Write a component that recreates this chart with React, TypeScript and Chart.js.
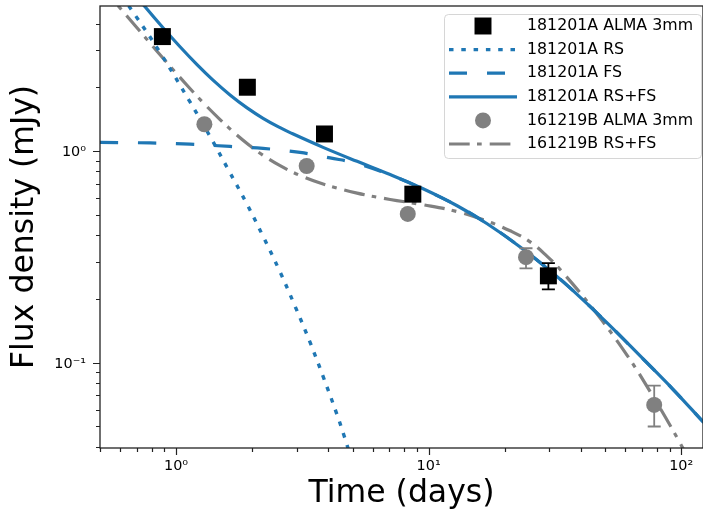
import React, { useEffect, useRef } from 'react';
import { Chart, registerables } from 'chart.js';

Chart.register(...registerables);

const FONT = '"DejaVu Sans", "Noto Sans", sans-serif';
const BLUE = '#1f77b4';
const GREY = '#808080';

// ---------- axes ----------
const xLimits = [0.5, 122];
const yLimits = [0.0395, 4.84];
const xMajorTicks = [1, 10, 100];
const xTickLabels = ['10⁰', '10¹', '10²'];
const yMajorTicks = [0.1, 1];
const yTickLabels = ['10⁻¹', '10⁰'];
const xTitle = 'Time (days)';
const yTitle = 'Flux density (mJy)';

// ---------- 181201A ALMA 3mm (data points) ----------
const alma181201Days = [0.883, 1.916, 3.87, 8.66, 29.8];
const alma181201Flux = [3.47, 2.0, 1.203, 0.625, 0.257];
const alma181201ErrLow = [null, null, null, null, 0.222];
const alma181201ErrHigh = [null, null, null, null, 0.295];

// ---------- 161219B ALMA 3mm (data points) ----------
const alma161219Days = [1.295, 3.29, 8.27, 24.3, 78.2];
const alma161219Flux = [1.337, 0.849, 0.504, 0.315, 0.0631];
const alma161219ErrLow = [null, null, null, 0.279, 0.0499];
const alma161219ErrHigh = [null, null, null, 0.347, 0.0778];

// ---------- 181201A RS+FS model ----------
const rsfsDays = [0.5, 0.62, 0.754, 0.888, 1.037, 1.211, 1.401, 1.636, 1.911, 2.211, 2.582, 2.828, 3.821, 5.21, 7.04, 9.51, 12.97, 17.05, 23.04, 31.1, 37.4, 50.9, 68.8, 93.0, 122.2, 130];
const rsfsFlux = [8.81, 6.38, 4.80, 3.82, 3.106, 2.557, 2.160, 1.839, 1.598, 1.427, 1.288, 1.221, 1.040, 0.893, 0.774, 0.663, 0.551, 0.453, 0.352, 0.2645, 0.2184, 0.1542, 0.1075, 0.0746, 0.0524, 0.0484];

// ---------- 181201A FS model ----------
const fsDays = [0.5, 0.789, 1.136, 1.636, 2.211, 3.098, 4.073, 5.21, 7.04, 9.51, 12.97, 17.05, 23.04, 31.1, 37.4, 50.9, 68.8, 93.0, 130];
const fsFlux = [1.097, 1.091, 1.076, 1.050, 1.028, 0.984, 0.927, 0.873, 0.770, 0.661, 0.551, 0.453, 0.352, 0.2645, 0.2184, 0.1542, 0.1075, 0.0746, 0.0484];

// ---------- 181201A RS model ----------
const rsDays = [0.5, 0.688, 0.864, 1.136, 1.363, 1.607, 1.911, 2.211, 2.582, 2.960, 3.395, 3.821, 4.341, 4.628, 4.98];
const rsFlux = [7.48, 4.39, 2.920, 1.704, 1.172, 0.820, 0.5595, 0.395, 0.268, 0.1846, 0.1245, 0.0861, 0.0567, 0.0451, 0.0341];

// ---------- 161219B RS+FS model ----------
const b161219Days = [0.5, 0.600, 0.688, 0.839, 0.976, 1.119, 1.283, 1.494, 1.740, 1.964, 2.151, 2.582, 3.098, 3.821, 5.21, 7.04, 9.51, 12.97, 17.05, 21.03, 25.23, 29.47, 33.18, 44.83, 61.1, 75.4, 86.4, 99.1, 113.6];
const b161219Flux = [6.11, 4.74, 3.914, 2.969, 2.413, 2.011, 1.687, 1.407, 1.190, 1.057, 0.975, 0.852, 0.766, 0.698, 0.632, 0.590, 0.557, 0.517, 0.466, 0.4195, 0.372, 0.3178, 0.2754, 0.1790, 0.1083, 0.0729, 0.0555, 0.0416, 0.0308];

const seriesLabels = [
  '181201A ALMA 3mm',
  '161219B ALMA 3mm',
  '181201A RS+FS',
  '181201A FS',
  '181201A RS',
  '161219B RS+FS',
];
// legend row order (dataset indices)
const legendOrder = [0, 4, 3, 2, 1, 5];

const pts = (xs: number[], ys: number[]) => xs.map((x, i) => ({ x, y: ys[i] }));

function logTicks(min: number, max: number) {
  const out: number[] = [];
  for (let e = Math.floor(Math.log10(min)); e <= Math.ceil(Math.log10(max)); e++) {
    for (let m = 1; m <= 9; m++) {
      const v = m * Math.pow(10, e);
      if (v >= min * 0.9999 && v <= max * 1.0001) out.push(v);
    }
  }
  return out;
}

function labelFor(value: number, majors: number[], texts: string[]) {
  const i = majors.findIndex((m) => Math.abs(Math.log10(value / m)) < 1e-6);
  return i >= 0 ? texts[i] : null;
}

const isMajor = (v: number, majors: number[]) => majors.some((m) => Math.abs(Math.log10(v / m)) < 1e-6);

const errorBars = [
  { ds: 0, days: alma181201Days, low: alma181201ErrLow, high: alma181201ErrHigh, color: '#000' },
  { ds: 1, days: alma161219Days, low: alma161219ErrLow, high: alma161219ErrHigh, color: GREY },
];

const errorBarPlugin = {
  id: 'errorBars',
  afterDatasetsDraw(chart: any) {
    const { ctx, scales } = chart;
    ctx.save();
    ctx.beginPath();
    ctx.rect(chart.chartArea.left, chart.chartArea.top, chart.chartArea.right - chart.chartArea.left, chart.chartArea.bottom - chart.chartArea.top);
    ctx.clip();
    for (const eb of errorBars) {
      ctx.strokeStyle = eb.color;
      ctx.lineWidth = 1.8;
      eb.days.forEach((d, i) => {
        const lo = eb.low[i];
        const hi = eb.high[i];
        if (lo == null || hi == null) return;
        const px = scales.x.getPixelForValue(d);
        const y0 = scales.y.getPixelForValue(lo);
        const y1 = scales.y.getPixelForValue(hi);
        ctx.beginPath();
        ctx.moveTo(px, y0);
        ctx.lineTo(px, y1);
        ctx.moveTo(px - 6.5, y0);
        ctx.lineTo(px + 6.5, y0);
        ctx.moveTo(px - 6.5, y1);
        ctx.lineTo(px + 6.5, y1);
        ctx.stroke();
      });
    }
    ctx.restore();
  },
};

const framePlugin = {
  id: 'frame',
  afterDraw(chart: any) {
    const { ctx, chartArea: a, scales } = chart;
    ctx.save();
    ctx.strokeStyle = '#222';
    ctx.lineWidth = 1.2;
    ctx.beginPath();
    for (const v of logTicks(xLimits[0], xLimits[1])) {
      const px = Math.round(scales.x.getPixelForValue(v)) + 0.5;
      const len = isMajor(v, xMajorTicks) ? 7 : 4;
      ctx.moveTo(px, a.bottom);
      ctx.lineTo(px, a.bottom + len);
    }
    for (const v of logTicks(yLimits[0], yLimits[1])) {
      const py = Math.round(scales.y.getPixelForValue(v)) + 0.5;
      const len = isMajor(v, yMajorTicks) ? 7 : 4;
      ctx.moveTo(a.left, py);
      ctx.lineTo(a.left - len, py);
    }
    ctx.stroke();
    ctx.lineWidth = 1.3;
    ctx.strokeRect(a.left, a.top, a.right - a.left, a.bottom - a.top);
    ctx.restore();
  },
};

const legendPlugin = {
  id: 'mplLegend',
  afterDraw(chart: any) {
    const { ctx, chartArea: a } = chart;
    const w = 257;
    const h = 144;
    const left = a.right - 2 - w;
    const top = a.top + 8;
    ctx.save();
    ctx.beginPath();
    if (ctx.roundRect) ctx.roundRect(left + 0.5, top + 0.5, w, h, 4);
    else ctx.rect(left + 0.5, top + 0.5, w, h);
    ctx.fillStyle = 'rgba(255,255,255,0.8)';
    ctx.fill();
    ctx.strokeStyle = 'rgba(204,204,204,0.8)';
    ctx.lineWidth = 1;
    ctx.stroke();
    legendOrder.forEach((di, row) => {
      const ds = chart.data.datasets[di];
      const cy = top + 12 + row * 23.6;
      const hx0 = left + 5;
      const hx1 = left + 73;
      const hcx = left + 39;
      if (ds.showLine) {
        ctx.setLineDash(ds.borderDash || []);
        ctx.lineDashOffset = 0;
        ctx.lineWidth = ds.borderWidth;
        ctx.strokeStyle = ds.borderColor;
        ctx.lineCap = 'butt';
        ctx.beginPath();
        ctx.moveTo(hx0, cy);
        ctx.lineTo(hx1, cy);
        ctx.stroke();
        ctx.setLineDash([]);
      } else {
        ctx.fillStyle = ds.backgroundColor;
        ctx.beginPath();
        if (ds.pointStyle === 'rect') {
          const s = Math.SQRT1_2 * ds.pointRadius;
          ctx.rect(hcx - s, cy - s, 2 * s, 2 * s);
        } else {
          ctx.arc(hcx, cy, ds.pointRadius, 0, Math.PI * 2);
        }
        ctx.fill();
      }
      ctx.fillStyle = '#000';
      ctx.font = `15.8px ${FONT}`;
      ctx.textBaseline = 'middle';
      ctx.textAlign = 'left';
      ctx.fillText(ds.label, left + 83, cy);
    });
    ctx.restore();
  },
};

export default function App() {
  const ref = useRef<HTMLCanvasElement>(null);
  useEffect(() => {
    if (!ref.current) return;
    const chart = new Chart(ref.current, {
      type: 'scatter',
      data: {
        datasets: [
          {
            label: seriesLabels[0],
            data: pts(alma181201Days, alma181201Flux),
            showLine: false,
            pointStyle: 'rect',
            pointRadius: 12,
            backgroundColor: '#000',
            borderWidth: 0,
          },
          {
            label: seriesLabels[1],
            data: pts(alma161219Days, alma161219Flux),
            showLine: false,
            pointStyle: 'circle',
            pointRadius: 8,
            backgroundColor: GREY,
            borderWidth: 0,
          },
          {
            label: seriesLabels[2],
            data: pts(rsfsDays, rsfsFlux),
            showLine: true,
            pointRadius: 0,
            borderColor: BLUE,
            borderWidth: 3.2,
            tension: 0.4,
          },
          {
            label: seriesLabels[3],
            data: pts(fsDays, fsFlux),
            showLine: true,
            pointRadius: 0,
            borderColor: BLUE,
            borderWidth: 3.2,
            borderDash: [18, 20],
            tension: 0.4,
          },
          {
            label: seriesLabels[4],
            data: pts(rsDays, rsFlux),
            showLine: true,
            pointRadius: 0,
            borderColor: BLUE,
            borderWidth: 3.4,
            borderDash: [4.5, 7.8],
            tension: 0.4,
          },
          {
            label: seriesLabels[5],
            data: pts(b161219Days, b161219Flux),
            showLine: true,
            pointRadius: 0,
            borderColor: GREY,
            borderWidth: 3.2,
            borderDash: [20.7, 7.3, 4.7, 8],
            tension: 0.4,
          },
        ] as any,
      },
      options: {
        animation: false,
        responsive: false,
        events: [],
        layout: { autoPadding: false, padding: { top: 6, right: 0, left: 0, bottom: 0 } },
        plugins: {
          legend: { display: false },
          tooltip: { enabled: false },
        },
        scales: {
          x: {
            type: 'logarithmic',
            position: 'bottom',
            min: xLimits[0],
            max: xLimits[1],
            bounds: 'data',
            afterBuildTicks: (s: any) => {
              s.ticks = logTicks(xLimits[0], xLimits[1]).map((v) => ({ value: v }));
            },
            afterFit: (s: any) => {
              s.height = 65;
              s.paddingLeft = 0;
              s.paddingRight = 0;
            },
            grid: { display: false, drawTicks: false },
            border: { display: false },
            ticks: {
              autoSkip: false,
              maxRotation: 0,
              minRotation: 0,
              padding: 10,
              color: '#000',
              font: { family: FONT, size: 14.4 },
              callback: (v: any) => labelFor(Number(v), xMajorTicks, xTickLabels),
            },
            title: {
              display: true,
              text: xTitle,
              color: '#000',
              font: { family: FONT, size: 31.5, lineHeight: 1.2 },
              padding: { top: 0, bottom: 0 },
            },
          },
          y: {
            type: 'logarithmic',
            position: 'left',
            min: yLimits[0],
            max: yLimits[1],
            bounds: 'data',
            afterBuildTicks: (s: any) => {
              s.ticks = logTicks(yLimits[0], yLimits[1]).map((v) => ({ value: v }));
            },
            afterFit: (s: any) => {
              s.width = 100;
              s.paddingTop = 0;
              s.paddingBottom = 0;
            },
            grid: { display: false, drawTicks: false },
            border: { display: false },
            ticks: {
              autoSkip: false,
              padding: 14,
              labelOffset: 1.5,
              color: '#000',
              font: { family: FONT, size: 14.4 },
              callback: (v: any) => labelFor(Number(v), yMajorTicks, yTickLabels),
            },
            title: {
              display: true,
              text: yTitle,
              color: '#000',
              font: { family: FONT, size: 31.5, lineHeight: 1.2 },
              padding: { top: 6, bottom: 0 },
            },
          },
        },
      } as any,
      plugins: [errorBarPlugin, framePlugin, legendPlugin],
    });
    return () => chart.destroy();
  }, []);
  return (
    <div style={{ position: 'fixed', left: 0, top: 0, width: 703, height: 513, background: '#fff', overflow: 'hidden' }}>
      <canvas ref={ref} width={703} height={513} style={{ display: 'block', width: 703, height: 513 }} />
    </div>
  );
}
